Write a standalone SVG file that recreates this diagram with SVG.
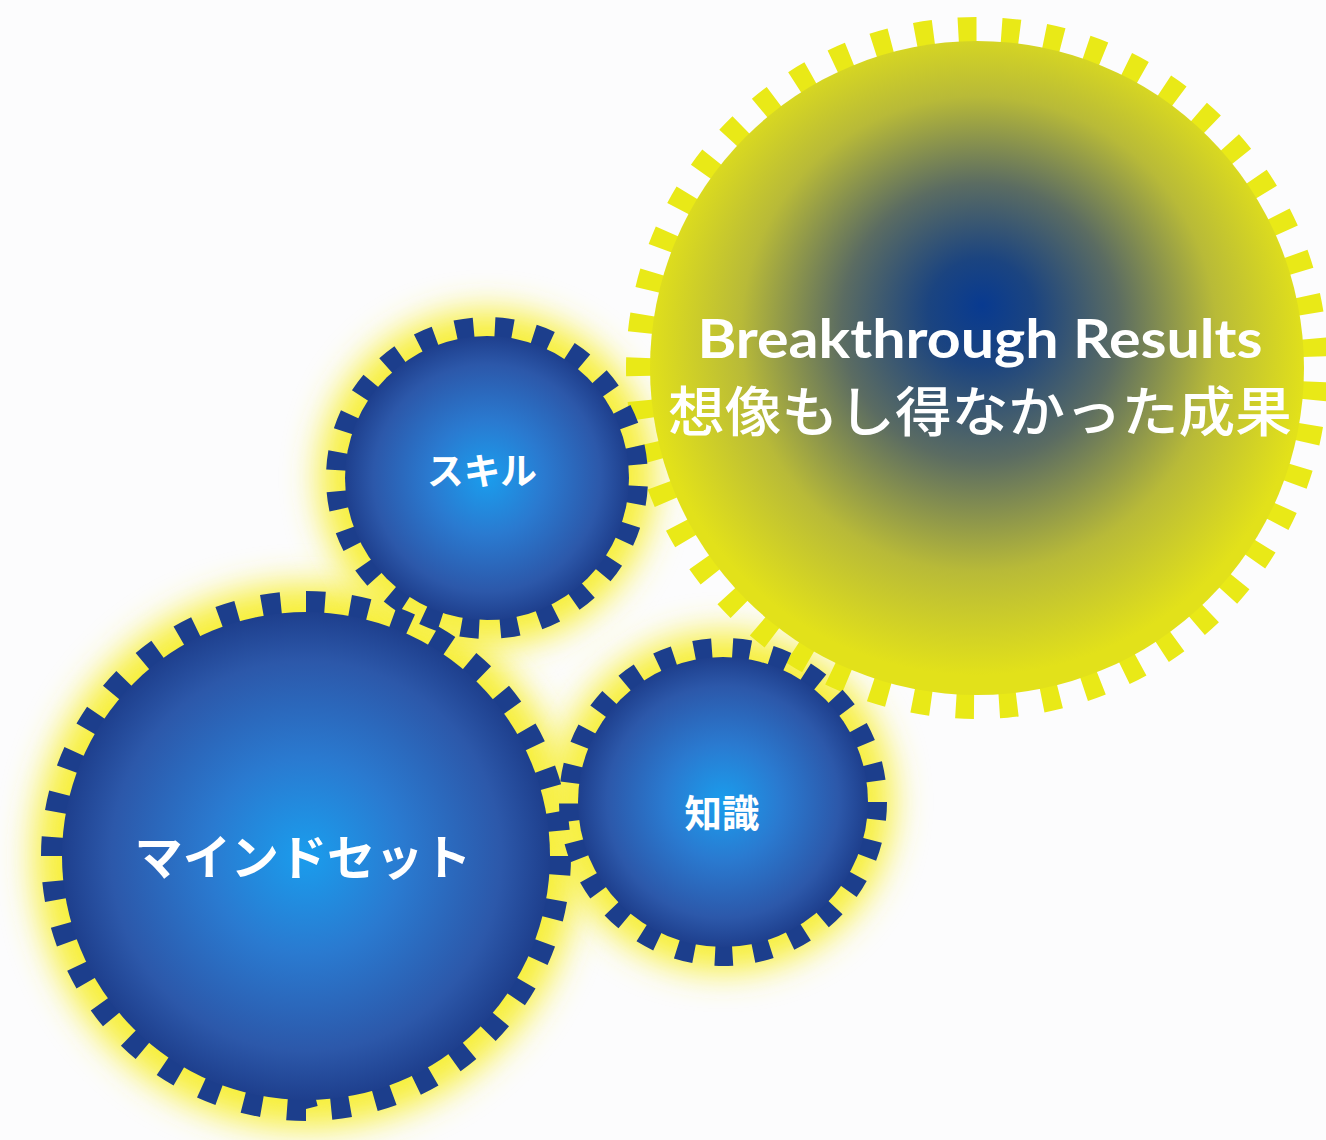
<svg xmlns="http://www.w3.org/2000/svg" width="1326" height="1140" viewBox="0 0 1326 1140">
  <defs>
    <radialGradient id="blueBody" cx="50%" cy="50%" r="50%">
      <stop offset="0" stop-color="#1a9ded"/>
      <stop offset="0.4" stop-color="#2a7ad0"/>
      <stop offset="0.8" stop-color="#2c58aa"/>
      <stop offset="1" stop-color="#1e3f8d"/>
    </radialGradient>
    <radialGradient id="resultBody" gradientUnits="userSpaceOnUse" cx="977" cy="345" r="330" fx="982" fy="305">
      <stop offset="0" stop-color="#083a90"/>
      <stop offset="0.16" stop-color="#1b4480"/>
      <stop offset="0.42" stop-color="#5b6c62"/>
      <stop offset="0.72" stop-color="#b8ba38"/>
      <stop offset="1" stop-color="#e2e11a"/>
    </radialGradient>
    <filter id="glow" x="-40%" y="-40%" width="180%" height="180%">
      <feGaussianBlur stdDeviation="17"/>
    </filter>
    <style>
      .glow { fill: #f7ef3a; filter: url(#glow); }
      .blue-body { fill: url(#blueBody); }
      .blue-teeth { fill: none; stroke: #1c3e8c; }
      .yellow-teeth { fill: none; stroke: #e9e917; }
      .lbl { fill: #ffffff; text-anchor: middle; font-family: "Noto Sans CJK JP", "Noto Sans", sans-serif; font-weight: 700; }
    </style>
  </defs>

  <rect width="1326" height="1140" fill="#fcfcfd"/>

  <!-- soft yellow halos behind the blue gears -->
  <g id="halos">
    <circle class="glow" cx="306" cy="856" r="272"/>
    <circle class="glow" cx="487" cy="478" r="168"/>
    <circle class="glow" cx="723" cy="802" r="170"/>
  </g>

  <!-- large result gear -->
  <g id="gear-results">
    <circle class="yellow-teeth" cx="977" cy="368" r="338" stroke-width="26" pathLength="98" stroke-dasharray="0.84 1.16" transform="rotate(-5 977 368)"/>
    <circle cx="977" cy="368" r="327" fill="url(#resultBody)"/>
    <text x="980" y="358" fill="#ffffff" text-anchor="middle" font-family="Lato, 'Open Sans', sans-serif" font-weight="700" font-size="54" textLength="565" lengthAdjust="spacingAndGlyphs">Breakthrough Results</text>
    <text x="980" y="432" fill="#ffffff" text-anchor="middle" font-family="'Noto Sans CJK JP', sans-serif" font-weight="500" font-size="54" textLength="624" lengthAdjust="spacingAndGlyphs">想像もし得なかった成果</text>
  </g>

  <!-- mindset gear -->
  <g id="gear-mindset">
    <circle class="blue-teeth" cx="306" cy="856" r="253" stroke-width="24" pathLength="72" stroke-dasharray="0.86 1.14"/>
    <circle class="blue-body" cx="306" cy="856" r="244"/>
    <text class="lbl" x="303" y="875" font-size="48" textLength="337" lengthAdjust="spacingAndGlyphs">マインドセット</text>
  </g>

  <!-- skill gear -->
  <g id="gear-skill">
    <circle class="blue-teeth" cx="487" cy="478" r="150" stroke-width="22" pathLength="48" stroke-dasharray="0.92 1.08" transform="rotate(3 487 478)"/>
    <circle class="blue-body" cx="487" cy="478" r="142"/>
    <text class="lbl" x="482" y="485" font-size="37" textLength="110" lengthAdjust="spacingAndGlyphs">スキル</text>
  </g>

  <!-- knowledge gear -->
  <g id="gear-knowledge">
    <circle class="blue-teeth" cx="723" cy="802" r="153" stroke-width="22" pathLength="50" stroke-dasharray="0.92 1.08"/>
    <circle class="blue-body" cx="723" cy="802" r="145"/>
    <text class="lbl" x="722" y="827" font-size="38" textLength="75" lengthAdjust="spacingAndGlyphs">知識</text>
  </g>

  <g id="connectors"/>
</svg>
